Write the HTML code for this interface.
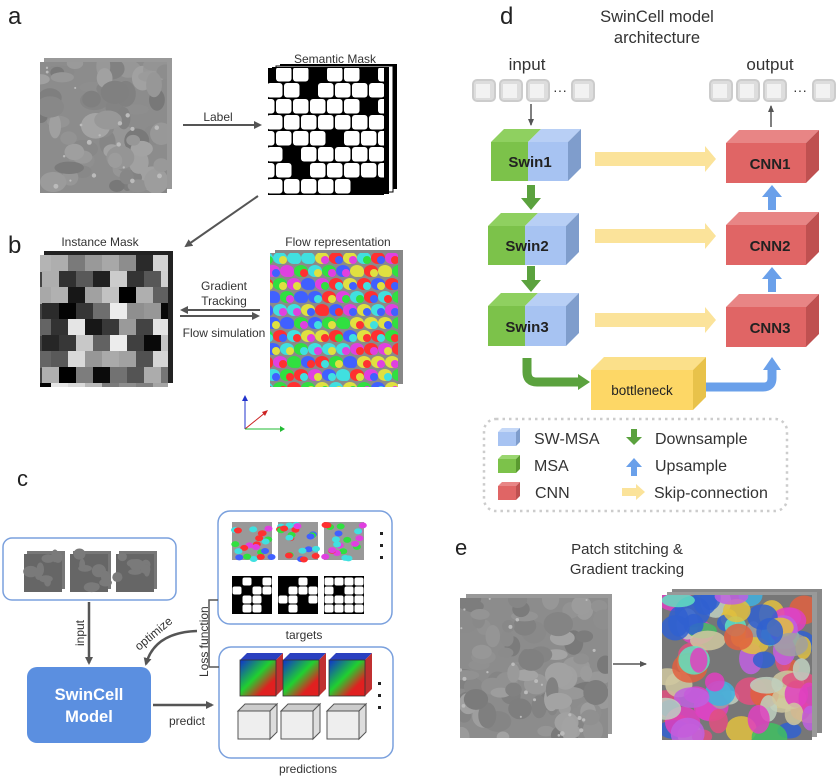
<!DOCTYPE html>
<html><head><meta charset="utf-8">
<style>
html,body{margin:0;padding:0;background:#fff;}
svg{display:block;font-family:"Liberation Sans",Arial,sans-serif;}
</style></head>
<body>
<svg id="s" width="837" height="784" viewBox="0 0 837 784" xmlns="http://www.w3.org/2000/svg">
<defs>
<marker id="ah" markerWidth="8" markerHeight="8" refX="6" refY="4" orient="auto" markerUnits="userSpaceOnUse"><path d="M0,0 L8,4 L0,8 z" fill="#555"/></marker>
<marker id="ahs" markerWidth="8" markerHeight="8" refX="6" refY="4" orient="auto" markerUnits="userSpaceOnUse"><path d="M0,1 L7,4 L0,7 z" fill="#555"/></marker>
<linearGradient id="rgb" x1="0" y1="0" x2="1" y2="1"><stop offset="0" stop-color="#1030d0"/><stop offset="0.45" stop-color="#20d030"/><stop offset="0.75" stop-color="#e02020"/></linearGradient>
<clipPath id="c1"><rect x="40" y="62" width="127" height="131"/></clipPath>
<clipPath id="c2"><rect x="268" y="68" width="116" height="127"/></clipPath>
<clipPath id="c3"><rect x="40" y="255" width="128" height="132"/></clipPath>
<clipPath id="c4"><rect x="270" y="253" width="128" height="134"/></clipPath>
<clipPath id="c5"><rect x="460" y="598" width="148" height="140"/></clipPath>
<clipPath id="c6"><rect x="662" y="595" width="150" height="145"/></clipPath>
</defs>

<!-- ===== a ===== -->
<text x="8" y="24" font-size="24" fill="#222">a</text>
<rect x="44" y="58" width="128" height="131" fill="#999"/>
<rect x="40" y="62" width="127" height="131" fill="#8c8c8c"/>
<g id="g1" clip-path="url(#c1)"></g>
<line x1="183" y1="125" x2="260" y2="125" stroke="#555" stroke-width="2" marker-end="url(#ah)"/>
<text x="218" y="121" font-size="12" text-anchor="middle" fill="#333">Label</text>
<text x="335" y="63" font-size="12" text-anchor="middle" fill="#333">Semantic Mask</text>
<rect x="280" y="64" width="117" height="125" fill="#000"/>
<rect x="276" y="66" width="117" height="126" fill="#fff" stroke="#000"/>
<rect x="272" y="67" width="117" height="127" fill="#000"/>
<rect x="268" y="68" width="116" height="127" fill="#000"/>
<g id="g2" clip-path="url(#c2)"></g>
<line x1="258" y1="196" x2="186" y2="246" stroke="#555" stroke-width="2" marker-end="url(#ah)"/>

<!-- ===== b ===== -->
<text x="8" y="253" font-size="24" fill="#222">b</text>
<text x="100" y="246" font-size="12" text-anchor="middle" fill="#333">Instance Mask</text>
<rect x="44" y="251" width="129" height="132" fill="#222"/>
<rect x="40" y="255" width="128" height="132" fill="#444"/>
<g id="g3" clip-path="url(#c3)"></g>
<text x="338" y="246" font-size="12" text-anchor="middle" fill="#333">Flow representation</text>
<rect x="275" y="250" width="128" height="134" fill="#888"/>
<rect x="270" y="253" width="128" height="134" fill="#8a8a8a"/>
<g id="g4" clip-path="url(#c4)"></g>
<text x="224" y="290" font-size="12" text-anchor="middle" fill="#333">Gradient</text>
<text x="224" y="305" font-size="12" text-anchor="middle" fill="#333">Tracking</text>
<line x1="260" y1="310" x2="182" y2="310" stroke="#555" stroke-width="2" marker-end="url(#ah)"/>
<line x1="180" y1="316" x2="258" y2="316" stroke="#555" stroke-width="2" marker-end="url(#ah)"/>
<text x="224" y="337" font-size="12" text-anchor="middle" fill="#333">Flow simulation</text>
<line x1="245" y1="429" x2="245" y2="399" stroke="#2233cc" stroke-width="1"/><path d="M242,401 L245,395 L248,401z" fill="#2233cc"/>
<line x1="245" y1="429" x2="266" y2="412" stroke="#cc2222" stroke-width="1"/><path d="M262,412 L268,410 L265,416z" fill="#cc2222"/>
<line x1="245" y1="429" x2="282" y2="429" stroke="#22bb33" stroke-width="1"/><path d="M280,426 L285,429 L280,432z" fill="#22bb33"/>

<!-- ===== c ===== -->
<text x="17" y="486" font-size="22" fill="#222">c</text>
<rect x="3" y="538" width="173" height="62" rx="9" fill="#fff" stroke="#7aa0dd" stroke-width="1.5"/>
<g id="gin"></g>
<line x1="89" y1="602" x2="89" y2="663" stroke="#555" stroke-width="2.5" marker-end="url(#ah)"/>
<text transform="translate(84,646) rotate(-90)" font-size="12" fill="#333">input</text>
<rect x="27" y="667" width="124" height="76" rx="10" fill="#5b8fe0"/>
<text x="89" y="700" font-size="16.5" font-weight="bold" text-anchor="middle" fill="#fff">SwinCell</text>
<text x="89" y="722" font-size="16.5" font-weight="bold" text-anchor="middle" fill="#fff">Model</text>
<line x1="153" y1="705" x2="212" y2="705" stroke="#555" stroke-width="2.5" marker-end="url(#ah)"/>
<text x="187" y="725" font-size="12" text-anchor="middle" fill="#333">predict</text>
<rect x="218" y="511" width="174" height="113" rx="12" fill="#fff" stroke="#7aa0dd" stroke-width="1.5"/>
<g id="gtg"></g>
<text x="304" y="639" font-size="12" text-anchor="middle" fill="#333">targets</text>
<rect x="219" y="647" width="174" height="111" rx="12" fill="#fff" stroke="#7aa0dd" stroke-width="1.5"/>
<g id="gpr"></g>
<text x="308" y="773" font-size="12" text-anchor="middle" fill="#333">predictions</text>
<path d="M218,600 H209 V667 H219" fill="none" stroke="#555" stroke-width="1.5"/>
<text transform="translate(208,677) rotate(-90)" font-size="12" fill="#333">Loss function</text>
<path d="M197,631 C170,632 152,642 146,664" fill="none" stroke="#555" stroke-width="2.5" marker-end="url(#ah)"/>
<text transform="translate(139,651) rotate(-40)" font-size="12" fill="#333">optimize</text>

<!-- ===== d ===== -->
<text x="500" y="24" font-size="24" fill="#222">d</text>
<text x="657" y="22" font-size="16.5" text-anchor="middle" fill="#333">SwinCell model</text>
<text x="657" y="43" font-size="16.5" text-anchor="middle" fill="#333">architecture</text>
<text x="527" y="70" font-size="17" text-anchor="middle" fill="#333">input</text>
<text x="770" y="70" font-size="17" text-anchor="middle" fill="#333">output</text>
<g id="gcubes"></g>
<line x1="531" y1="104" x2="531" y2="125" stroke="#555" stroke-width="1.5" marker-end="url(#ahs)"/>
<line x1="771" y1="127" x2="771" y2="106" stroke="#555" stroke-width="1.5" marker-end="url(#ahs)"/>
<g id="gblocks"></g>
<g fill="#fbe39a">
<path d="M595,152 H705 V146 L716,159 L705,172 V166 H595z"/>
<path d="M595,229 H705 V223 L716,236 L705,249 V243 H595z"/>
<path d="M595,313 H705 V307 L716,320 L705,333 V327 H595z"/>
</g>
<g fill="#5ba23e">
<path d="M527,185 H535 V198 H541 L531,210 L521,198 H527z"/>
<path d="M527,266 H535 V280 H541 L531,292 L521,280 H527z"/>
</g>
<g fill="#6aa0ea">
<path d="M768,210 H776 V197 H782 L772,185 L762,197 H768z"/>
<path d="M768,292 H776 V279 H782 L772,267 L762,279 H768z"/>
</g>
<path d="M527,358 V372 Q527,382 537,382 H580" fill="none" stroke="#5ba23e" stroke-width="9"/>
<path d="M578,374 L590,382 L578,390z" fill="#5ba23e"/>
<path d="M702,387 H763 Q772,387 772,378 V368" fill="none" stroke="#6aa0ea" stroke-width="9"/>
<path d="M763,370 L772,357 L781,370z" fill="#6aa0ea"/>
<path d="M591,370 L604,357 L706,357 L693,370z" fill="#fbe08a"/>
<path d="M693,370 L706,357 L706,397 L693,410z" fill="#e8c24a"/>
<rect x="591" y="370" width="102" height="40" fill="#fdd766"/>
<text x="642" y="395" font-size="13.5" text-anchor="middle" fill="#222">bottleneck</text>
<rect x="484" y="419" width="303" height="92" rx="12" fill="none" stroke="#ccc" stroke-width="2.5" stroke-dasharray="2.5,4"/>
<g id="gleg"></g>
<g font-size="16" fill="#333">
<text x="534" y="444">SW-MSA</text><text x="534" y="471">MSA</text><text x="535" y="498">CNN</text>
<text x="655" y="444">Downsample</text><text x="655" y="471">Upsample</text><text x="654" y="498">Skip-connection</text>
</g>
<path d="M631,429 H637 V437 H642 L634,445 L626,437 H631z" fill="#5ba23e"/>
<path d="M631,476 H637 V467 H642 L634,458 L626,467 H631z" fill="#6aa0ea"/>
<path d="M622,488 H636 V484 L645,492 L636,500 V496 H622z" fill="#fbe39a"/>

<!-- ===== e ===== -->
<text x="455" y="555" font-size="22" fill="#222">e</text>
<text x="627" y="554" font-size="15" text-anchor="middle" fill="#333">Patch stitching &amp;</text>
<text x="627" y="574" font-size="15" text-anchor="middle" fill="#333">Gradient tracking</text>
<rect x="466" y="594" width="146" height="140" fill="#999"/>
<rect x="460" y="598" width="148" height="140" fill="#8c8c8c"/>
<g id="g5" clip-path="url(#c5)"></g>
<line x1="613" y1="664" x2="646" y2="664" stroke="#555" stroke-width="1.5" marker-end="url(#ahs)"/>
<rect x="672" y="589" width="150" height="144" fill="#888"/>
<rect x="667" y="592" width="150" height="145" fill="#999"/>
<rect x="662" y="595" width="150" height="145" fill="#777"/>
<g id="g6" clip-path="url(#c6)"></g>
</svg>
<script>
(function(){
var NS="http://www.w3.org/2000/svg";
var seed=7;function r(){seed=(seed*16807)%2147483647;return (seed-1)/2147483646;}
function el(p,t,a){var e=document.createElementNS(NS,t);for(var k in a)e.setAttribute(k,a[k]);(typeof p==='string'?document.getElementById(p):p).appendChild(e);return e;}
function g(id){return document.getElementById(id);}
function greyCells(id,x,y,w,h,n){var G=g(id);for(var i=0;i<n;i++){var v=120+Math.floor(r()*45);el(G,'ellipse',{cx:x+r()*w,cy:y+r()*h,rx:6+r()*9,ry:5+r()*8,fill:'rgb('+v+','+v+','+v+')'});}
 for(var i=0;i<n/4;i++){el(G,'circle',{cx:x+r()*w,cy:y+r()*h,r:1+r()*1.5,fill:'#bbb'});}}
greyCells('g1',40,62,127,131,70);
greyCells('g5',460,598,148,140,90);
(function(){var G=g('g2');for(var yy=66;yy<197;yy+=16){for(var xx=258;xx<390;xx+=17){if(r()<0.1)continue;var ox=(Math.floor((yy-66)/16)%2)*8;el(G,'rect',{x:xx+ox+1,y:yy+1,width:15.5,height:14.5,rx:3,fill:'#fff'});}}})();
(function(){var G=g('g3');for(var yy=255;yy<390;yy+=16){for(var xx=34;xx<170;xx+=17){var v=Math.floor(r()*240);var ox=(Math.floor((yy-255)/16)%2)*8;el(G,'rect',{x:xx+ox,y:yy,width:18,height:17,fill:'rgb('+v+','+v+','+v+')'});}}})();
(function(){var G=g('g4');var cols=['#e040e0','#30e040','#4060ff','#ff3030','#40e0e0','#e0e040'];for(var yy=258;yy<392;yy+=13){for(var xx=266;xx<400;xx+=14){var ox=(Math.floor((yy-258)/13)%2)*7;var cx=xx+ox,cy=yy;
el(G,'ellipse',{cx:cx,cy:cy,rx:7,ry:6,fill:cols[Math.floor(r()*6)]});el(G,'ellipse',{cx:cx+3,cy:cy+2,rx:4,ry:4,fill:cols[Math.floor(r()*6)]});}}})();
(function(){var G=g('g6');var cols=['#e05080','#40c060','#e0c040','#40b0e0','#c060e0','#e06040','#60e0c0','#d0c8a0','#a0a0a0','#3060d0','#e040c0','#c0d0c0'];
for(var i=0;i<90;i++){el(G,'ellipse',{cx:662+r()*150,cy:595+r()*145,rx:8+r()*10,ry:7+r()*9,fill:cols[Math.floor(r()*cols.length)],opacity:0.85});}})();
(function(){var G=g('gin');[24,70,116].forEach(function(x){el(G,'rect',{x:x+3,y:551,width:38,height:38,fill:'#777'});el(G,'rect',{x:x,y:554,width:38,height:38,fill:'#666'});for(var i=0;i<8;i++)el(G,'ellipse',{cx:x+r()*38,cy:554+r()*38,rx:3+r()*5,ry:3+r()*4,fill:'#7a7a7a'});});})();
(function(){var G=g('gtg');var cols=['#e040e0','#30e040','#4060ff','#ff3030','#40e0e0'];[232,278,324].forEach(function(x){el(G,'rect',{x:x,y:522,width:40,height:38,fill:'#999'});for(var i=0;i<22;i++)el(G,'ellipse',{cx:x+r()*40,cy:522+r()*38,rx:4,ry:3,fill:cols[Math.floor(r()*5)]});
el(G,'rect',{x:x,y:576,width:40,height:38,fill:'#000'});for(var yy=577;yy<612;yy+=9)for(var xx=x;xx<x+40;xx+=10){if(r()<0.2)continue;el(G,'rect',{x:xx+0.5,y:yy+0.5,width:9,height:8,rx:2,fill:'#fff'});}});
[532,544,556].forEach(function(y){el(G,'rect',{x:380,y:y,width:3,height:3,fill:'#222'});});})();
(function(){var G=g('gpr');[240,283,329].forEach(function(x){el(G,'path',{d:'M'+x+',660 l7,-7 h36 l-7,7z',fill:'#2a40c0'});el(G,'path',{d:'M'+(x+36)+',660 l7,-7 v36 l-7,7z',fill:'#c03030'});el(G,'rect',{x:x,y:660,width:36,height:36,fill:'url(#rgb)',stroke:'#333','stroke-width':0.8});
el(G,'path',{d:'M'+(x-2)+',711 l7,-7 h32 l-7,7z',fill:'#ccc',stroke:'#555','stroke-width':1});el(G,'path',{d:'M'+(x+30)+',711 l7,-7 v28 l-7,7z',fill:'#ddd',stroke:'#555','stroke-width':1});el(G,'rect',{x:x-2,y:711,width:32,height:28,fill:'#eee',stroke:'#555','stroke-width':1});});
[682,694,706].forEach(function(y){el(G,'rect',{x:378,y:y,width:3,height:3,fill:'#222'});});})();
(function(){var G=g('gcubes');function cube(x){el(G,'rect',{x:x,y:80,width:22,height:21,rx:4,fill:'#ddd',stroke:'#ccc','stroke-width':2});el(G,'rect',{x:x+3,y:84,width:14,height:14,fill:'#f2f2f2'});}
[473,500,527,572,710,737,764,813].forEach(cube);
el(G,'text',{x:560,y:95,'font-size':14,'text-anchor':'middle',fill:'#333'}).textContent='···';
el(G,'text',{x:800,y:95,'font-size':14,'text-anchor':'middle',fill:'#333'}).textContent='···';})();
(function(){var G=g('gblocks');
function swin(x,y,w,h,mid){var d=13;el(G,'path',{d:'M'+x+','+y+' l'+d+','+(-d)+' h'+(mid-x)+' l'+(-d)+','+d+'z',fill:'#8fd060'});
el(G,'path',{d:'M'+mid+','+y+' l'+d+','+(-d)+' h'+(x+w-mid)+' l'+(-d)+','+d+'z',fill:'#b8cff5'});
el(G,'path',{d:'M'+(x+w)+','+y+' l'+d+','+(-d)+' v'+h+' l'+(-d)+','+d+'z',fill:'#7f9dcc'});
el(G,'rect',{x:x,y:y,width:mid-x,height:h,fill:'#7cc24a'});el(G,'rect',{x:mid,y:y,width:x+w-mid,height:h,fill:'#a7c3f2'});}
function cnn(x,y,w,h,t){var d=13;el(G,'path',{d:'M'+x+','+y+' l'+d+','+(-d)+' h'+w+' l'+(-d)+','+d+'z',fill:'#e88585'});
el(G,'path',{d:'M'+(x+w)+','+y+' l'+d+','+(-d)+' v'+h+' l'+(-d)+','+d+'z',fill:'#bf5050'});
el(G,'rect',{x:x,y:y,width:w,height:h,fill:'#e06565'});el(G,'text',{x:x+w/2+4,y:y+h/2+6,'font-size':15,'font-weight':'bold','text-anchor':'middle',fill:'#222'}).textContent=t;}
swin(491,142,77,39,528);swin(488,226,78,39,525);swin(488,306,78,40,525);
[['Swin1',530,167],['Swin2',527,251],['Swin3',527,332]].forEach(function(a){el(G,'text',{x:a[1],y:a[2],'font-size':15,'font-weight':'bold','text-anchor':'middle',fill:'#222'}).textContent=a[0];});
cnn(726,143,80,40,'CNN1');cnn(726,225,80,40,'CNN2');cnn(726,307,80,40,'CNN3');})();
(function(){var G=g('gleg');function ic(y,f,t,s){el(G,'path',{d:'M498,'+y+' l4,-4 h18 l-4,4z',fill:t});el(G,'path',{d:'M516,'+y+' l4,-4 v14 l-4,4z',fill:s});el(G,'rect',{x:498,y:y,width:18,height:14,fill:f});}
ic(432,'#a7c3f2','#c5d8f7','#7f9dcc');ic(459,'#7cc24a','#9ad670','#5a9a30');ic(486,'#e06565','#e88585','#bf5050');})();
})();
</script>
</body></html>
